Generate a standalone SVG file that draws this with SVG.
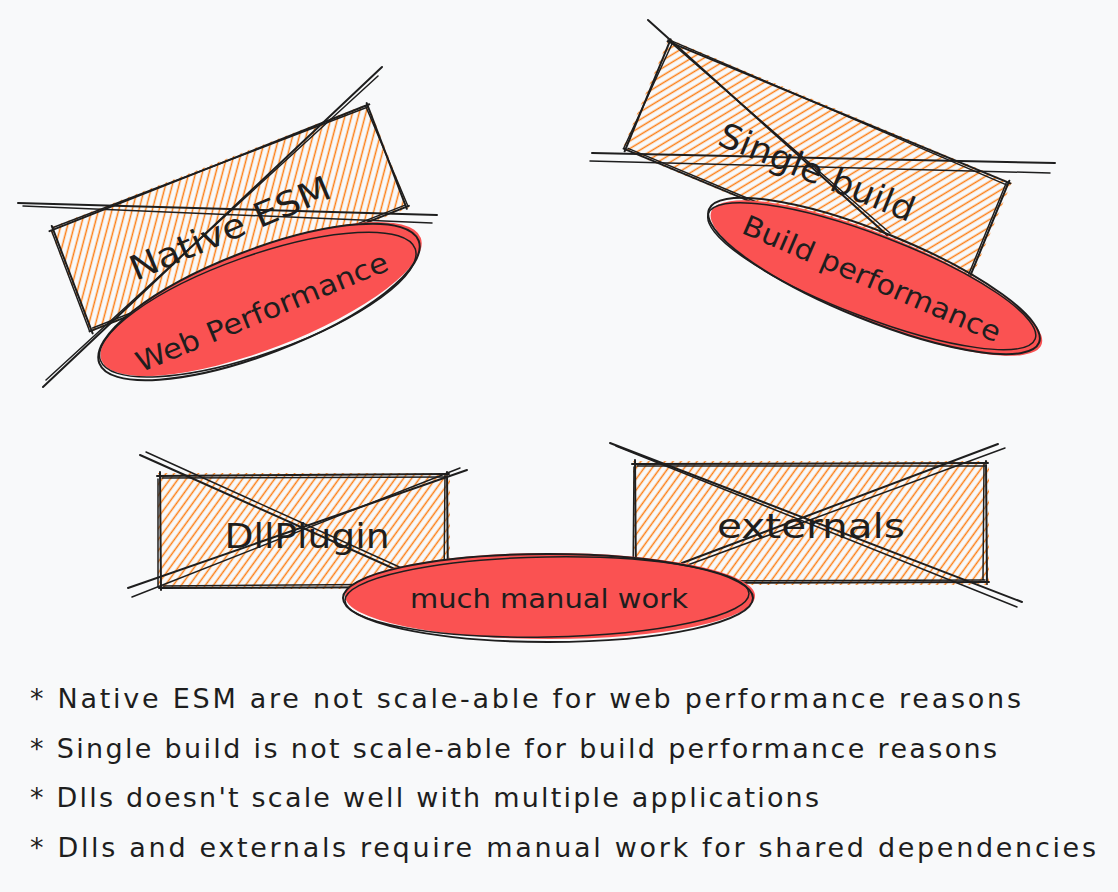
<svg xmlns="http://www.w3.org/2000/svg" width="1118" height="892" viewBox="0 0 1118 892">
<defs>
<pattern id="hatch" patternUnits="userSpaceOnUse" width="6.5" height="6" patternTransform="rotate(36)">
<line x1="3.2" y1="-1" x2="3.2" y2="7" stroke="#fd7e14" stroke-width="1.5"/>
</pattern>
</defs>
<style>
.bg{fill:#f8f9fa}
.hatch{fill:url(#hatch);stroke:none}
.ink{fill:none;stroke:#1e1e1e;stroke-width:2;stroke-linecap:round;stroke-linejoin:round}
.ink2{fill:none;stroke:#1e1e1e;stroke-width:1.5;stroke-linecap:round;stroke-linejoin:round}
.red{fill:#fa5252}
.label{font-family:"DejaVu Sans","Liberation Sans",sans-serif;fill:#1e1e1e;text-anchor:middle}
.bullet{font-family:"DejaVu Sans","Liberation Sans",sans-serif;font-size:27px;fill:#1e1e1e}
</style>
<rect class="bg" x="0" y="0" width="1118" height="892"/>

<g id="node-native-esm">
<g transform="rotate(-21.3 229 218)">
<rect class="hatch" x="58" y="162" width="342" height="112"/>
<path class="ink" d="M57 165 L401 163 M399 161 L398 274 M401 272 L58 273 M60 276 L61 161"/>
<path class="ink2" d="M61 163 L398 165 M397 163 L400 271 M397 270 L62 271 M58 273 L59 166"/>
</g>
<text class="label" font-size="34" x="230" y="240" transform="rotate(-23 230 228)" textLength="215" lengthAdjust="spacingAndGlyphs">Native ESM</text>
<path class="ink" d="M18 203 L437 215 M43 387 L382 67"/>
<path class="ink2" d="M23 206 L432 223 M46 380 L378 76"/>
</g>

<g id="node-web-performance" transform="rotate(-21 259 302)">
<ellipse class="red" cx="262" cy="300" rx="171" ry="50"/>
<ellipse class="ink" cx="259" cy="302" rx="171" ry="52"/>
<ellipse class="ink2" cx="257" cy="304" rx="167" ry="49" transform="rotate(1.5 259 302)"/>
<text class="label" font-size="28" x="258" y="322" textLength="270" lengthAdjust="spacingAndGlyphs" transform="rotate(-1.4 258 312)">Web Performance</text>
</g>

<g id="node-single-build">
<g transform="rotate(22.8 817 166)">
<rect class="hatch" x="631" y="106" width="372" height="120"/>
<path class="ink" d="M631 109 L1002 107 M1000 105 L1001 226 M1003 224 L632 225 M634 227 L633 106"/>
<path class="ink2" d="M635 107 L999 110 M998 108 L999 223 M999 222 L636 223 M632 224 L636 110"/>
</g>
<text class="label" font-size="34" x="817" y="184" transform="rotate(22 817 172)" textLength="208" lengthAdjust="spacingAndGlyphs">Single build</text>
<path class="ink" d="M592 153 L1055 163 M648 20 L887 235"/>
<path class="ink2" d="M590 161 L1050 173 M668 40 L890 233"/>
</g>

<g id="node-build-performance" transform="rotate(22 874 276)">
<ellipse class="red" cx="877" cy="277" rx="178" ry="43"/>
<ellipse class="ink" cx="874" cy="276" rx="178" ry="44"/>
<ellipse class="ink2" cx="872" cy="277" rx="175" ry="41" transform="rotate(-1 874 276)"/>
<text class="label" font-size="28" x="873" y="289" textLength="278" lengthAdjust="spacingAndGlyphs" transform="rotate(1.3 873 279)">Build performance</text>
</g>

<g id="node-dllplugin">
<rect class="hatch" x="158" y="473" width="292" height="116"/>
<path class="ink" d="M157 476 L449 474 M447 472 L448 589 M450 587 L159 588 M161 590 L160 472"/>
<path class="ink2" d="M162 478 L446 477 M445 475 L444 585 M446 584 L163 586 M158 587 L158 479"/>
<text class="label" font-size="34" x="307" y="548" textLength="165" lengthAdjust="spacingAndGlyphs">DllPlugin</text>
<path class="ink" d="M140 455 L455 596 M128 588 L467 470"/>
<path class="ink2" d="M146 452 L450 590 M132 597 L460 468"/>
</g>

<g id="node-externals">
<rect class="hatch" x="633" y="461" width="356" height="124"/>
<path class="ink" d="M632 464 L988 463 M986 461 L987 584 M989 582 L634 583 M636 585 L635 460"/>
<path class="ink2" d="M637 466 L985 466 M984 464 L983 580 M985 580 L638 581 M633 582 L634 467"/>
<text class="label" font-size="34" x="811" y="538" textLength="188" lengthAdjust="spacingAndGlyphs">externals</text>
<path class="ink" d="M610 443 L1022 602 M998 444 L682 563"/>
<path class="ink2" d="M616 446 L1017 607 M1005 448 L685 566"/>
</g>

<g id="node-much-manual-work">
<ellipse class="red" cx="550" cy="596" rx="205" ry="43"/>
<ellipse class="ink" cx="548" cy="598" rx="205" ry="44"/>
<ellipse class="ink2" cx="547" cy="597" rx="202" ry="40" transform="rotate(-1 548 598)"/>
<text class="label" font-size="26" x="549" y="608" textLength="278" lengthAdjust="spacingAndGlyphs">much manual work</text>
</g>

<g id="notes">
<text class="bullet" x="30" y="708" textLength="991" lengthAdjust="spacing">* Native ESM are not scale-able for web performance reasons</text>
<text class="bullet" x="30" y="758" textLength="967" lengthAdjust="spacing">* Single build is not scale-able for build performance reasons</text>
<text class="bullet" x="30" y="807" textLength="789" lengthAdjust="spacing">* Dlls doesn't scale well with multiple applications</text>
<text class="bullet" x="30" y="857" textLength="1066" lengthAdjust="spacing">* Dlls and externals require manual work for shared dependencies</text>
</g>
</svg>
